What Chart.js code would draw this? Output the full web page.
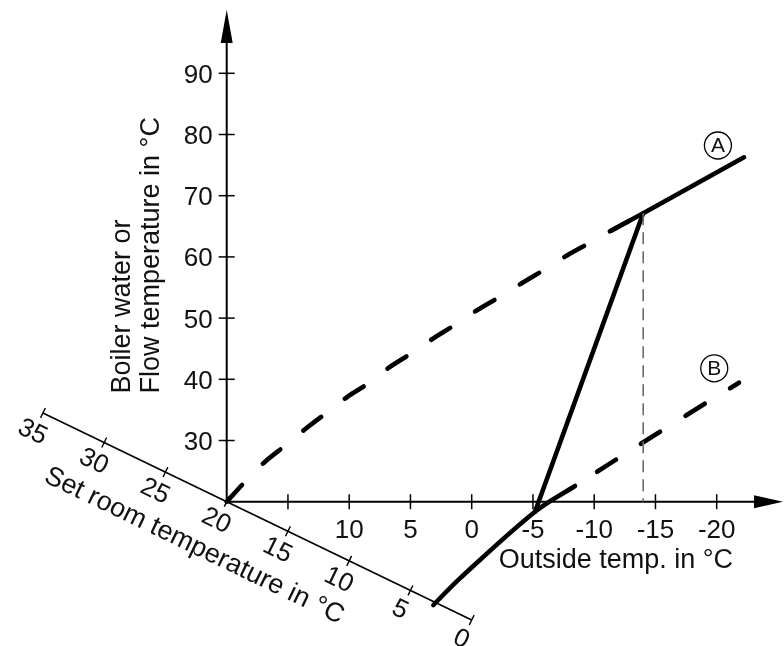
<!DOCTYPE html>
<html>
<head>
<meta charset="utf-8">
<script src="https://cdn.jsdelivr.net/npm/chart.js@4/dist/chart.umd.min.js"></script>
<style>
  html, body { margin: 0; padding: 0; background: #fff; }
  #wrap { width: 784px; height: 646px; }
</style>
</head>
<body>
<div id="wrap"><canvas id="heatingCurve" width="784" height="646"></canvas></div>
<script>
// axis ticks
const flowTicks = [30, 40, 50, 60, 70, 80, 90];
const outsideTicks = [15, 10, 5, 0, -5, -10, -15, -20];
const outsideTickLabels = ['', '10', '5', '0', '-5', '-10', '-15', '-20'];
const roomTicks = [35, 30, 25, 20, 15, 10, 5, 0];

// heating curve A (dashed part), outside temp -> flow temp
const curveAOutside = [20, 18.37, 16.87, 15.16, 13.61, 11.84, 10.2, 8.36, 6.73, 4.85, 3.13, 1.28, -0.46, -2.31, -4.08, -5.98, -7.7, -9.66, -11.37, -14];
const curveAFlow    = [20, 23.55, 26.54, 29.26, 31.83, 34.54, 37.06, 39.44, 41.96, 44.35, 46.7, 48.99, 51.32, 53.5, 55.69, 57.97, 60.15, 62.32, 64.28, 67.12];
// heating curve A (solid part)
const curveASolidOutside = [-11.37, -14, -22.23];
const curveASolidFlow    = [64.28, 67.12, 76.27];
// shift line between the curves
const shiftOutside = [-14, -5.17];
const shiftFlow    = [67.12, 18.37];
// heating curve B
const curveBSolidOutside = [3.13, 0.96, -5.17, -8.43];
const curveBSolidFlow    = [3.12, 7.48, 18.37, 22.57];
const curveBDashOutside  = [-8.43, -13.6, -19.18, -21.82];
const curveBDashFlow     = [22.57, 29.2, 36.2, 39.44];
// design point guide
const guideOutside = [-14, -14];
const guideFlow    = [67.12, 20];

// layout of the drawing (pixel mapping of the data space)
const W = 784, H = 646;
const ORIGIN_PX = 226.7, ORIGIN_PY = 501.7;   // where 20 / 20 sits
const PX_PER_DEG_X = 12.25, PX_PER_DEG_Y = 6.12;
const ROOM_DROP = 0.967;                       // oblique room-temperature axis
const FONT = '"Liberation Sans", Arial, sans-serif';
const DASH = [22.4, 29.9];

const xMax = 20 + ORIGIN_PX / PX_PER_DEG_X;
const xMin = 20 - (W - ORIGIN_PX) / PX_PER_DEG_X;
const yMax = 20 + ORIGIN_PY / PX_PER_DEG_Y;
const yMin = 20 - (H - ORIGIN_PY) / PX_PER_DEG_Y;

const zip = (xs, ys) => xs.map((v, i) => ({ x: v, y: ys[i] }));

function lineSet(xs, ys, opts) {
  return Object.assign({
    data: zip(xs, ys),
    showLine: true,
    fill: false,
    borderColor: '#000',
    borderWidth: 4.6,
    borderCapStyle: 'round',
    borderJoinStyle: 'round',
    pointRadius: 0,
    pointHoverRadius: 0,
    tension: 0.3
  }, opts);
}

// axes, ticks and labels drawn through the chart scales
const diagramPlugin = {
  id: 'diagram',
  beforeDatasetsDraw(chart) {
    const { ctx, chartArea, scales: { x, y } } = chart;
    const px = v => x.getPixelForValue(v);
    const py = v => y.getPixelForValue(v);
    const ox = px(20), oy = py(20);
    ctx.save();
    ctx.strokeStyle = '#000';
    ctx.fillStyle = '#111';

    // vertical axis + arrow
    const topTip = chartArea.top + 10;
    ctx.lineWidth = 2;
    ctx.beginPath(); ctx.moveTo(ox, oy); ctx.lineTo(ox, topTip + 30); ctx.stroke();
    ctx.beginPath();
    ctx.moveTo(ox, topTip); ctx.lineTo(ox - 6, topTip + 33); ctx.lineTo(ox + 6, topTip + 33);
    ctx.closePath(); ctx.fillStyle = '#000'; ctx.fill();

    // horizontal axis + arrow
    const rightTip = chartArea.right - 1;
    ctx.beginPath(); ctx.moveTo(ox, oy); ctx.lineTo(rightTip - 27, oy); ctx.stroke();
    ctx.beginPath();
    ctx.moveTo(rightTip, oy); ctx.lineTo(rightTip - 29, oy - 6.5); ctx.lineTo(rightTip - 29, oy + 6.5);
    ctx.closePath(); ctx.fill();

    ctx.fillStyle = '#111';
    ctx.lineWidth = 1.5;
    ctx.font = '26px ' + FONT;

    // flow temperature ticks
    ctx.textAlign = 'right';
    ctx.textBaseline = 'alphabetic';
    flowTicks.forEach(v => {
      const ty = py(v);
      ctx.beginPath(); ctx.moveTo(ox - 8, ty); ctx.lineTo(ox + 8, ty); ctx.stroke();
      ctx.fillText(String(v), ox - 14, ty + 9.5);
    });

    // outside temperature ticks
    ctx.textAlign = 'center';
    outsideTicks.forEach((v, i) => {
      const tx = px(v);
      ctx.beginPath(); ctx.moveTo(tx, oy - 7.5); ctx.lineTo(tx, oy + 7.5); ctx.stroke();
      if (outsideTickLabels[i]) ctx.fillText(outsideTickLabels[i], tx, oy + 36);
    });

    // outside temp title
    ctx.font = '27px ' + FONT;
    ctx.textAlign = 'left';
    ctx.fillText('Outside temp. in °C', px(-2.2), oy + 66);

    // flow title (rotated)
    ctx.save();
    ctx.translate(129.5, 393.5);
    ctx.rotate(-Math.PI / 2);
    ctx.fillText('Boiler water or', 0, 0);
    ctx.restore();
    ctx.save();
    ctx.translate(158.5, 393.5);
    ctx.rotate(-Math.PI / 2);
    ctx.fillText('Flow temperature in °C', 0, 0);
    ctx.restore();

    // oblique set room temperature axis
    const roomPt = r => ({ x: px(r), y: py(20 - (20 - r) * ROOM_DROP) });
    const first = roomPt(roomTicks[0]);
    const last = roomPt(roomTicks[roomTicks.length - 1]);
    const ang = Math.atan2(last.y - first.y, last.x - first.x);
    const nx = -Math.sin(ang), ny = Math.cos(ang);
    const ax = Math.cos(ang), ay = Math.sin(ang);
    ctx.lineWidth = 1.6;
    ctx.beginPath(); ctx.moveTo(first.x, first.y); ctx.lineTo(last.x, last.y); ctx.stroke();
    ctx.lineWidth = 1.4;
    ctx.font = '26px ' + FONT;
    ctx.textAlign = 'center';
    ctx.textBaseline = 'middle';
    roomTicks.forEach(r => {
      const p = roomPt(r);
      ctx.beginPath();
      ctx.moveTo(p.x - 5.5 * nx, p.y - 5.5 * ny);
      ctx.lineTo(p.x + 5.5 * nx, p.y + 5.5 * ny);
      ctx.stroke();
      ctx.save();
      ctx.translate(p.x + 22 * nx - 1 * ax, p.y + 22 * ny - 1 * ay);
      ctx.rotate(ang);
      ctx.fillText(String(r), 0, 0);
      ctx.restore();
    });

    // room title
    const o = roomPt(20);
    ctx.save();
    ctx.translate(o.x + 54 * nx - 10 * ax, o.y + 54 * ny - 10 * ay);
    ctx.rotate(ang);
    ctx.font = '27px ' + FONT;
    ctx.fillText('Set room temperature in °C', 0, 0);
    ctx.restore();

    ctx.restore();
  },
  afterDatasetsDraw(chart) {
    const { ctx, scales: { x, y } } = chart;
    const marks = chart.options.plugins.diagram.marks;
    ctx.save();
    ctx.strokeStyle = '#000';
    ctx.fillStyle = '#111';
    ctx.lineWidth = 1.3;
    ctx.font = '21px ' + FONT;
    ctx.textAlign = 'center';
    ctx.textBaseline = 'middle';
    marks.forEach(m => {
      const cx = x.getPixelForValue(m.x), cy = y.getPixelForValue(m.y);
      ctx.beginPath(); ctx.arc(cx, cy, 13.5, 0, Math.PI * 2); ctx.stroke();
      ctx.fillText(m.label, cx, cy + 1);
    });
    ctx.restore();
  }
};

window.addEventListener('load', function () {
  const ctx = document.getElementById('heatingCurve').getContext('2d');
  new Chart(ctx, {
    type: 'scatter',
    data: {
      datasets: [
        lineSet(guideOutside, guideFlow, { borderColor: '#6b6b6b', borderWidth: 1.6, borderCapStyle: 'butt', borderDash: [12, 7], tension: 0 }),
        lineSet(curveAOutside, curveAFlow, { borderDash: DASH }),
        lineSet(curveASolidOutside, curveASolidFlow, { tension: 0 }),
        lineSet(shiftOutside, shiftFlow, { tension: 0 }),
        lineSet(curveBSolidOutside, curveBSolidFlow, { tension: 0.35 }),
        lineSet(curveBDashOutside, curveBDashFlow, { borderDash: DASH, borderDashOffset: 26, tension: 0.2 })
      ]
    },
    options: {
      responsive: false,
      animation: false,
      events: [],
      layout: { padding: 0 },
      scales: {
        x: { type: 'linear', display: false, reverse: true, min: xMin, max: xMax },
        y: { type: 'linear', display: false, min: yMin, max: yMax }
      },
      plugins: {
        legend: { display: false },
        tooltip: { enabled: false },
        diagram: {
          marks: [
            { label: 'A', x: -20.1, y: 78.2 },
            { label: 'B', x: -19.8, y: 41.8 }
          ]
        }
      }
    },
    plugins: [diagramPlugin]
  });
});
</script>
</body>
</html>
